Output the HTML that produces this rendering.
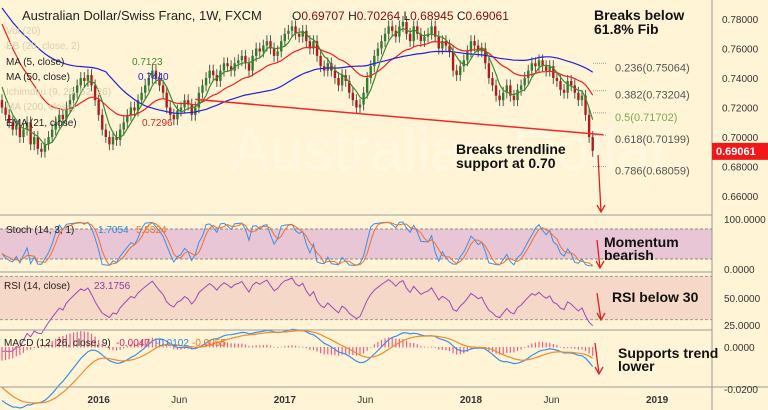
<!DOCTYPE html>
<html><head><meta charset="utf-8"><style>
body{margin:0;background:#fff5d6;}
svg{display:block;font-family:"Liberation Sans",Arial,sans-serif;}
</style></head><body>
<svg id="c" width="768" height="410" xmlns="http://www.w3.org/2000/svg">
<rect x="0" y="0" width="768" height="410" fill="#fff5d6"/>
<text x="230" y="170" font-size="60" fill="#ffffff" opacity="0.25">Australian Dollar</text>
<g id="main"></g>
<g id="osc"></g>
<g id="axes"></g>
<g font-size="10">
<text x="22" y="20" font-size="13" fill="#222">Australian Dollar/Swiss Franc, 1W, FXCM</text>
<text x="292" y="20" font-size="12" fill="#222">O<tspan fill="#7a1010">0.69707</tspan>  H<tspan fill="#7a1010">0.70264</tspan>  L<tspan fill="#7a1010">0.68945</tspan>  C<tspan fill="#7a1010">0.69061</tspan></text>
<text x="6" y="34" fill="#d8cfae">Vol (20)</text>
<text x="6" y="49" fill="#d8cfae">BB (20, close, 2)</text>
<text x="6" y="65" fill="#222">MA (5, close) <tspan x="132" fill="#3a8a2a">0.7123</tspan></text>
<text x="6" y="80" fill="#222">MA (50, close) <tspan x="138" fill="#2222dd">0.7440</tspan></text>
<text x="6" y="95" fill="#d8cfae">Ichimoku (9, 26, 52, 26)</text>
<text x="6" y="110" fill="#d8cfae">MA (200, close)</text>
<text x="6" y="126" fill="#222">EMA (21, close) <tspan x="142" fill="#e02020">0.7296</tspan></text>
<text x="6" y="233" fill="#222">Stoch (14, 3, 1) <tspan x="98" fill="#2a8ae0">1.7054</tspan> <tspan x="136" fill="#f07020">5.5324</tspan></text>
<text x="4" y="289" fill="#222">RSI (14, close) <tspan x="94" fill="#8a3aaa">23.1756</tspan></text>
<text x="4" y="346" fill="#222">MACD (12, 26, close, 9) <tspan x="116" fill="#e0206a">-0.0047</tspan> <tspan x="155" fill="#2a8ae0">-0.0102</tspan> <tspan x="192" fill="#f07020">-0.0055</tspan></text>
</g>
<g font-size="14" font-weight="bold" fill="#111">
<text x="594" y="20">Breaks below</text>
<text x="594" y="34">61.8% Fib</text>
<text x="456" y="154">Breaks trendline</text>
<text x="456" y="168">support at 0.70</text>
<text x="604" y="247">Momentum</text>
<text x="604" y="260">bearish</text>
<text x="612" y="302">RSI below 30</text>
<text x="618" y="358">Supports trend</text>
<text x="618" y="371">lower</text>
</g>
</svg>
<script>
const closes=[0.72,0.715,0.71,0.705,0.708,0.70,0.705,0.71,0.695,0.70,
0.692,0.69,0.695,0.70,0.705,0.71,0.715,0.712,0.72,0.725,
0.73,0.735,0.74,0.738,0.742,0.735,0.725,
0.715,0.705,0.70,0.695,0.70,0.698,0.705,
0.71,0.715,0.72,0.718,0.725,0.73,0.735,0.74,0.745,0.74,0.735,0.73,
0.72,0.715,0.712,0.718,0.72,0.725,0.722,0.715,0.72,
0.73,0.735,0.74,0.745,0.742,0.738,0.745,0.75,0.748,0.745,0.75,0.752,
0.755,0.75,0.745,0.755,0.76,0.758,0.762,0.765,0.76,0.755,0.758,0.765,
0.77,0.772,0.775,0.77,0.768,0.772,0.765,0.76,0.765,0.755,0.748,0.745,
0.75,0.745,0.74,0.735,0.742,0.738,0.73,0.725,0.72,0.722,0.73,
0.74,0.748,0.755,0.76,0.765,0.77,0.775,0.772,0.768,0.775,0.778,0.77,
0.765,0.775,0.77,0.765,0.768,0.77,0.775,0.768,0.76,0.765,0.762,0.758,
0.745,0.742,0.748,0.752,0.758,
0.765,0.762,0.758,0.76,0.75,0.74,0.735,
0.728,0.725,0.73,0.735,0.728,0.725,0.732,0.735,0.74,0.745,0.75,0.748,
0.752,0.748,0.745,0.748,0.74,0.738,0.732,0.73,0.738,
0.735,0.73,0.725,0.728,0.715,0.70,0.69061];
const history=[0.84,0.835,0.83,0.832,0.825,0.82,0.815,0.81,0.805,0.80,0.795,0.785,0.78,0.775,0.765,0.755,0.75,0.74,0.735,0.725];
const fibLevels=[0.75064,0.73204,0.71702,0.70199,0.68059];
const fibNames=["0.236","0.382","0.5","0.618","0.786"];
const priceTicks=[0.78,0.76,0.74,0.72,0.70,0.68,0.66];
const timeLabels=["2016","Jun","2017","Jun","2018","Jun","2019"];
const timeIdx=[27,49.5,79,101.5,131,153.5,183];
const trendPts=[[54,0.7255],[168,0.7015]];

const NS="http://www.w3.org/2000/svg";
const svg=document.getElementById('c');
function mk(t,a,p){const e=document.createElementNS(NS,t);for(const k in a)e.setAttribute(k,a[k]);(p||svg).appendChild(e);return e;}
const X=i=>2+i*3.58;
const Y=p=>19+(0.78-p)*1475;
const main=document.getElementById('main'),osc=document.getElementById('osc'),axes=document.getElementById('axes');
const n=closes.length;
const all=history.concat(closes),H=history.length;
const opens=closes.map((c,i)=>all[H+i-1]);
const highs=closes.map((c,i)=>Math.max(c,opens[i])+0.004);
const lows=closes.map((c,i)=>Math.min(c,opens[i])-0.004);

[[0,215,712,215],[0,272,712,272],[0,330,712,330],[0,387,768,387],[712,0,712,410]].forEach(l=>{
 const e=mk('line',{x1:l[0],y1:l[1],x2:l[2],y2:l[3],stroke:'#999','stroke-width':1},axes);
 });

closes.forEach((c,i)=>{
 const o=opens[i],up=c>=o,col=up?'#2f7d2f':'#b01c1c';
 const w=mk('line',{x1:X(i),x2:X(i),y1:Y(highs[i]),y2:Y(lows[i]),stroke:'#555','stroke-width':1},main);
 
 const b=mk('rect',{x:X(i)-1.2,width:2.4,y:Y(Math.max(o,c)),height:Math.max(1,Math.abs(Y(o)-Y(c))),fill:col},main);
 
});
function sma(arr,p,i){let s=0,k=0;for(let j=Math.max(0,i-p+1);j<=i;j++){s+=arr[j];k++;}return s/k;}
function line(vals,col,yf,g,name,w){let d='';vals.forEach((v,i)=>{if(v==null)return;d+=(d?'L':'M')+X(i).toFixed(1)+','+yf(v).toFixed(1);});
 const e=mk('path',{d:d,fill:'none',stroke:col,'stroke-width':w||1.2},g);}
const ma5=closes.map((c,i)=>sma(all,5,H+i));
const ma50=closes.map((c,i)=>sma(all,50,H+i));
let ema=[],e0=all[0];all.forEach((v,j)=>{e0=j?e0+(v-e0)*2/22:v;ema.push(e0);});
const ema21=closes.map((c,i)=>ema[H+i]);
line(ema21,'#ee2020',Y,main,'ema21-line');
line(ma50,'#2020dd',Y,main,'ma50-line');
line(ma5,'#3a8a2a',Y,main,'ma5-line');
const tl=mk('line',{x1:X(trendPts[0][0]),y1:Y(trendPts[0][1]),x2:X(trendPts[1][0]),y2:Y(trendPts[1][1]),stroke:'#f02828','stroke-width':1.5},main);

fibLevels.forEach((f,k)=>{
 const l=mk('line',{x1:593,x2:607,y1:Y(f)+1,y2:Y(f)+1,stroke:'#999','stroke-dasharray':'1,1'},main);
 
 const t=mk('text',{x:615,y:Y(f)+9,'font-size':11,fill:k==2?'#7aaa50':'#555'},main);t.textContent=fibNames[k]+'('+f.toFixed(5)+')';
 
});
function arrow(x1,y1,x2,y2,name){const a=mk('path',{d:`M${x1},${y1}L${x2},${y2}M${x2-4},${y2-7}L${x2},${y2}L${x2+4},${y2-7}`,stroke:'#e02020','stroke-width':1.3,fill:'none'});}
arrow(598,155,601,212,'price-arrow');arrow(597,240,600,268,'stoch-arrow');arrow(597,293,601,320,'rsi-arrow');arrow(595,343,599,374,'macd-arrow');
priceTicks.forEach(p=>{const t=mk('text',{x:722,y:Y(p)+4,'font-size':10,fill:'#333'},axes);t.textContent=p.toFixed(5);});
const pb=mk('rect',{x:712,y:Y(closes[n-1])-8,width:56,height:17,fill:'#f01818'},axes);
const pt=mk('text',{x:716,y:Y(closes[n-1])+4,'font-size':11,'font-weight':'bold',fill:'#fff'},axes);pt.textContent=closes[n-1].toFixed(5);
timeLabels.forEach((s,k)=>{const t=mk('text',{x:X(timeIdx[k]),y:403,'font-size':10,'text-anchor':'middle',fill:'#333','font-weight':s.length==4?'bold':'normal'},axes);t.textContent=s;});

const SY=v=>269-v*0.5;
const sb=mk('rect',{x:0,y:SY(80),width:712,height:SY(20)-SY(80),fill:'#e9c6d6'},osc);
[80,20].forEach(v=>{const l=mk('line',{x1:0,x2:712,y1:SY(v),y2:SY(v),stroke:'#888','stroke-dasharray':'3,2'},osc);});
const K=closes.map((c,i)=>{let hh=-1,ll=9;for(let j=Math.max(0,i-13);j<=i;j++){hh=Math.max(hh,highs[j]);ll=Math.min(ll,lows[j]);}return 100*(c-ll)/(hh-ll);});
const D=K.map((v,i)=>sma(K,3,i));
line(K,'#3a90e8',SY,osc,'stoch-k-line',1);line(D,'#f07030',SY,osc,'stoch-d-line',1);
const RY=v=>298-(v-50)*1.08;
const rb=mk('rect',{x:0,y:RY(70),width:712,height:RY(30)-RY(70),fill:'#f6d8c8'},osc);
[70,30].forEach(v=>{const l=mk('line',{x1:0,x2:712,y1:RY(v),y2:RY(v),stroke:'#999','stroke-dasharray':'3,2'},osc);});
let ag=0,al=0;const rsiAll=[];for(let j=1;j<all.length;j++){const d=all[j]-all[j-1];ag=(ag*13+Math.max(d,0))/14;al=(al*13+Math.max(-d,0))/14;rsiAll[j]=al==0?100:100-100/(1+ag/al);}
const rsi=closes.map((c,i)=>rsiAll[H+i]);
line(rsi,'#9a4ab8',RY,osc,'rsi-line',1);
const MY=v=>347-v*1950;
let e12=all[0],e26=all[0];const mac=[];all.forEach(v=>{e12+=(v-e12)*2/13;e26+=(v-e26)*2/27;mac.push(e12-e26);});
let sg=mac[0];const sig=mac.map(v=>sg+=(v-sg)*0.2);
const macd=closes.map((c,i)=>mac[H+i]),signal=closes.map((c,i)=>sig[H+i]);
macd.forEach((v,i)=>{const h=v-signal[i];const r=mk('rect',{x:X(i)-0.6,width:1.2,y:Math.min(MY(0),MY(h)),height:Math.abs(MY(h)-MY(0))+0.5,fill:'#f05a8a'},osc);});
line(macd,'#3a90e8',MY,osc,'macd-line',1.2);line(signal,'#f08a30',MY,osc,'macd-signal-line',1.2);
[["100.0000",219],["0.0000",269],["50.0000",298],["25.0000",325],["0.0000",347],["-0.0200",389]].forEach(a=>{const t=mk('text',{x:724,y:a[1]+4,'font-size':10,fill:'#333'},axes);t.textContent=a[0];});
</script>
</body></html>
